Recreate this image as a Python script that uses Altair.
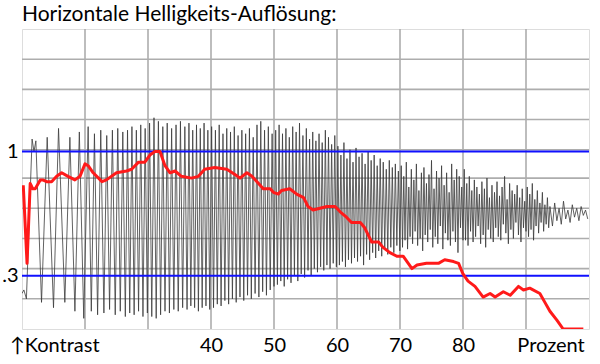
import altair as alt
import pandas as pd

title_text = "Horizontale Helligkeits-Auflösung:"

# axis labels
x_label_values = [15.1, 40, 50, 60, 70, 80, 93.9]
x_label_texts = ["↑Kontrast", "40", "50", "60", "70", "80", "Prozent"]
y_label_values = [0.3, 1.0]

# grid and reference lines
grid_x = [20, 30, 40, 50, 60, 70, 80, 90]
grid_y = [0.17, 0.34, 0.51, 0.68, 0.85, 1.01, 1.18, 1.35, 1.52]
ref_lines = [0.3, 1.0]

# red contrast curve (percent, contrast)
red_x = [10.2, 10.8, 11.3, 11.7, 12.1, 12.9, 13.3, 13.9, 14.7, 15.5, 16.3, 17.3, 18.4, 19.2,
         20.0, 20.5, 21.3, 22.7, 23.4, 25.0, 26.6, 27.4, 28.5, 29.5, 30.3, 31.1, 31.9, 32.7,
         33.5, 34.3, 35.3, 36.9, 38.0, 39.0, 40.6, 42.5, 43.8, 44.6, 45.7, 46.5, 47.3, 48.3,
         49.4, 49.9, 50.7, 51.2, 52.5, 53.6, 54.7, 55.4, 56.2, 57.3, 58.4, 59.7, 60.5, 61.5,
         62.3, 63.7, 64.4, 65.5, 66.6, 67.3, 68.4, 69.5, 70.5, 71.9, 72.7, 74.2, 75.3, 76.1,
         77.1, 78.5, 79.3, 80.0, 80.8, 81.9, 83.2, 84.3, 85.1, 86.4, 87.5, 88.8, 89.6, 90.6,
         92.2, 93.0, 93.8, 94.9, 95.9, 99.1]
red_y = [0.81, 0.37, 0.82, 0.79, 0.79, 0.84, 0.84, 0.83, 0.83, 0.86, 0.88, 0.86, 0.84, 0.86,
         0.93, 0.92, 0.88, 0.83, 0.84, 0.88, 0.89, 0.90, 0.94, 0.94, 0.98, 1.00, 1.00, 0.92,
         0.88, 0.89, 0.86, 0.85, 0.86, 0.90, 0.91, 0.90, 0.87, 0.85, 0.88, 0.86, 0.83, 0.79,
         0.79, 0.77, 0.76, 0.78, 0.79, 0.76, 0.74, 0.69, 0.67, 0.68, 0.69, 0.69, 0.66, 0.63,
         0.60, 0.60, 0.57, 0.49, 0.49, 0.46, 0.43, 0.41, 0.41, 0.34, 0.36, 0.37, 0.37, 0.37,
         0.39, 0.38, 0.37, 0.31, 0.27, 0.24, 0.18, 0.20, 0.18, 0.21, 0.19, 0.24, 0.22, 0.23,
         0.20, 0.15, 0.10, 0.05, 0.00, 0.00]

# gray brightness profile (peaks and troughs, segment by segment)
seg1_x = [10.0, 10.3, 10.7, 11.6, 11.9, 12.2, 13.1, 14.0, 15.0, 15.8, 16.8, 17.6, 18.4, 19.1, 19.8, 20.5]
seg1_y = [0.20, 0.22, 0.17, 1.07, 1.00, 1.06, 0.15, 1.08, 0.12, 1.13, 0.15, 1.08, 0.10, 1.11, 0.06, 1.14]

seg2_x = [21.0, 21.5, 22.0, 22.5, 23.0, 23.45, 23.9, 24.35, 24.8, 25.2, 25.6, 26.0, 26.4, 26.75,
          27.1, 27.45, 27.8, 28.15, 28.5, 28.85, 29.2, 29.55, 29.9]
seg2_y = [0.10, 1.10, 0.08, 1.12, 0.09, 1.09, 0.11, 1.12, 0.08, 1.13, 0.10, 1.11, 0.07, 1.12,
          0.09, 1.14, 0.08, 1.12, 0.10, 1.15, 0.07, 1.13, 0.09]

seg3_x = [30.25, 30.6, 30.95, 31.3, 31.65, 32.0, 32.35, 32.7, 33.05, 33.4, 33.75, 34.1, 34.45, 34.8,
          35.15, 35.5, 35.85, 36.2, 36.5, 36.8, 37.1, 37.4, 37.7, 38.0, 38.3, 38.6, 38.9, 39.2,
          39.5, 39.8]
seg3_y = [1.16, 0.07, 1.19, 0.06, 1.17, 0.08, 1.14, 0.10, 1.16, 0.09, 1.13, 0.11, 1.15, 0.10,
          1.17, 0.12, 1.14, 0.11, 1.16, 0.13, 1.12, 0.12, 1.15, 0.10, 1.13, 0.12, 1.16, 0.13,
          1.12, 0.11]

seg4_x = [40.1, 40.4, 40.7, 41.0, 41.3, 41.6, 41.9, 42.2, 42.5, 42.8, 43.1, 43.4, 43.7, 44.0,
          44.3, 44.6, 44.9, 45.2, 45.5, 45.8, 46.1, 46.4, 46.7, 47.0, 47.3, 47.6, 47.9, 48.2,
          48.5, 48.8, 49.1, 49.4, 49.7, 50.0]
seg4_y = [1.14, 0.12, 1.12, 0.14, 1.15, 0.13, 1.10, 0.16, 1.13, 0.14, 1.11, 0.17, 1.14, 0.15,
          1.09, 0.18, 1.12, 0.16, 1.10, 0.19, 1.13, 0.17, 1.08, 0.20, 1.15, 0.18, 1.17, 0.21,
          1.12, 0.19, 1.14, 0.22, 1.10, 0.24]

seg5_x = [50.27, 50.54, 50.81, 51.08, 51.35, 51.62, 51.89, 52.16, 52.43, 52.7, 52.97, 53.24,
          53.51, 53.78, 54.05, 54.32, 54.59, 54.86, 55.13, 55.4, 55.65, 55.9, 56.15, 56.4,
          56.65, 56.9, 57.15, 57.4, 57.65, 57.9, 58.15, 58.4, 58.65, 58.9, 59.15, 59.4, 59.65, 59.9]
seg5_y = [1.12, 0.25, 1.15, 0.27, 1.10, 0.24, 1.13, 0.28, 1.08, 0.26, 1.14, 0.30,
          1.11, 0.27, 1.16, 0.31, 1.09, 0.29, 1.13, 0.33, 1.07, 0.30, 1.11, 0.34,
          1.06, 0.32, 1.10, 0.35, 1.05, 0.33, 1.12, 0.36, 1.08, 0.34, 1.04, 0.37, 1.09, 0.35]

seg6_x = [60.14, 60.38, 60.62, 60.86, 61.1, 61.34, 61.58, 61.82, 62.06, 62.3, 62.54, 62.78,
          63.02, 63.26, 63.5, 63.74, 63.98, 64.22, 64.46, 64.7, 64.94, 65.18, 65.42, 65.66,
          65.9, 66.14, 66.38, 66.62, 66.86, 67.1, 67.34, 67.58, 67.82, 68.06, 68.3, 68.54,
          68.78, 69.02, 69.26, 69.5, 69.74, 69.98]
seg6_y = [1.03, 0.36, 0.98, 0.38, 1.05, 0.35, 0.96, 0.39, 1.01, 0.37, 0.94, 0.40,
          1.02, 0.38, 0.97, 0.41, 0.99, 0.36, 0.93, 0.42, 1.00, 0.39, 0.95, 0.43,
          0.98, 0.40, 0.92, 0.44, 0.96, 0.41, 0.94, 0.45, 0.90, 0.42, 0.95, 0.46,
          0.91, 0.43, 0.93, 0.47, 0.89, 0.44]

seg7_x = [70.2, 70.4, 70.6, 70.8, 71.0, 71.2, 71.4, 71.6, 71.8, 72.0, 72.2, 72.4, 72.6, 72.8,
          73.0, 73.2, 73.4, 73.6, 73.8, 74.0, 74.2, 74.4, 74.6, 74.8, 75.0, 75.2, 75.4, 75.6,
          75.8, 76.0, 76.2, 76.4, 76.6, 76.8, 77.0, 77.2, 77.4, 77.6, 77.8, 78.0, 78.2, 78.4,
          78.6, 78.8, 79.0, 79.2, 79.4, 79.6, 79.8, 80.0]
seg7_y = [0.92, 0.46, 0.86, 0.50, 0.94, 0.45, 0.80, 0.52, 0.90, 0.48, 0.84, 0.55, 0.93, 0.47,
          0.78, 0.51, 0.88, 0.44, 0.91, 0.53, 0.82, 0.49, 0.87, 0.56, 0.95, 0.46, 0.79, 0.52,
          0.89, 0.48, 0.85, 0.58, 0.92, 0.45, 0.81, 0.54, 0.88, 0.50, 0.77, 0.47, 0.93, 0.55,
          0.84, 0.49, 0.90, 0.43, 0.86, 0.57, 0.80, 0.50]

seg8_x = [80.2, 80.4, 80.6, 80.8, 81.0, 81.2, 81.4, 81.6, 81.8, 82.0, 82.2, 82.4, 82.6, 82.8,
          83.0, 83.2, 83.4, 83.6, 83.8, 84.0, 84.2, 84.4, 84.6, 84.8, 85.0, 85.2, 85.4, 85.6,
          85.8, 86.0, 86.2, 86.4, 86.6, 86.8, 87.0, 87.2, 87.4, 87.6, 87.8, 88.0, 88.2, 88.4,
          88.6, 88.8, 89.0, 89.2, 89.4, 89.6, 89.8, 90.0]
seg8_y = [0.90, 0.50, 0.82, 0.47, 0.86, 0.55, 0.78, 0.49, 0.84, 0.52, 0.80, 0.58, 0.76, 0.48,
          0.83, 0.53, 0.79, 0.46, 0.85, 0.56, 0.74, 0.51, 0.81, 0.49, 0.77, 0.57, 0.83, 0.52,
          0.75, 0.50, 0.80, 0.59, 0.86, 0.54, 0.73, 0.48, 0.82, 0.56, 0.78, 0.51, 0.76, 0.60,
          0.81, 0.53, 0.74, 0.49, 0.79, 0.57, 0.72, 0.55]

seg9_x = [90.2, 90.4, 90.6, 90.8, 91.0, 91.2, 91.4, 91.6, 91.8, 92.0, 92.2, 92.4, 92.6, 92.8,
          93.0, 93.2, 93.4, 93.6, 93.8, 94.2, 94.55, 94.9, 95.25, 95.6, 95.95, 96.3, 96.65,
          97.0, 97.35, 97.7, 98.05, 98.4, 98.75, 99.1, 99.45, 99.8]
seg9_y = [0.80, 0.52, 0.76, 0.56, 0.82, 0.50, 0.73, 0.58, 0.78, 0.54, 0.71, 0.60, 0.77, 0.55,
          0.70, 0.59, 0.74, 0.57, 0.69, 0.58, 0.71, 0.61, 0.68, 0.59, 0.72, 0.62, 0.67,
          0.60, 0.70, 0.63, 0.68, 0.61, 0.69, 0.64, 0.67, 0.62]

wave_x = seg1_x + seg2_x + seg3_x + seg4_x + seg5_x + seg6_x + seg7_x + seg8_x + seg9_x
wave_y = seg1_y + seg2_y + seg3_y + seg4_y + seg5_y + seg6_y + seg7_y + seg8_y + seg9_y

FONT = "Lato"

wave_df = pd.DataFrame([{"x": a, "y": b, "i": k} for k, (a, b) in enumerate(zip(wave_x, wave_y))])
red_df = pd.DataFrame([{"x": a, "y": b, "i": k} for k, (a, b) in enumerate(zip(red_x, red_y))])
gx_df = pd.DataFrame({"x": grid_x})
gy_df = pd.DataFrame({"y": grid_y})
ref_df = pd.DataFrame({"y": ref_lines})

x_expr = " : ".join(
    [f"datum.value == {v} ? '{t}'" for v, t in zip(x_label_values, x_label_texts)]
) + " : ''"
y_expr = "datum.value == 1 ? '1' : '.3'"

xs = alt.Scale(domain=[10, 100], nice=False, zero=False)
ys = alt.Scale(domain=[0, 1.69], nice=False, zero=False)

x_axis = alt.Axis(values=x_label_values, labelExpr=x_expr, title=None, grid=False,
                  ticks=False, domain=False, labelPadding=6, labelFontSize=20,
                  labelFont=FONT, labelColor="black", labelFlush=False, labelOverlap=False)
y_axis = alt.Axis(values=y_label_values, labelExpr=y_expr, title=None, grid=False,
                  ticks=False, domain=False, labelPadding=4, labelFontSize=20,
                  labelFont=FONT, labelColor="black", labelFlush=False, labelOverlap=False)

X = alt.X("x:Q", scale=xs, axis=x_axis)
Y = alt.Y("y:Q", scale=ys, axis=y_axis)

grid_v = alt.Chart(gx_df).mark_rule(color="#adadad", strokeWidth=1.6).encode(x=X)
grid_h = alt.Chart(gy_df).mark_rule(color="#adadad", strokeWidth=1.6).encode(y=Y)
wave = alt.Chart(wave_df).mark_line(color="#3a3a3a", strokeWidth=0.8, clip=True).encode(
    x=X, y=Y, order="i:Q")
refs = alt.Chart(ref_df).mark_rule(color="#1010ff", strokeWidth=2).encode(y=Y)
red = alt.Chart(red_df).mark_line(color="#ff1a1a", strokeWidth=3, clip=True,
                                  strokeJoin="round").encode(x=X, y=Y, order="i:Q")

chart = alt.layer(grid_v, grid_h, wave, refs, red).properties(
    width=567,
    height=300,
    autosize=alt.AutoSizeParams(type="none"),
    padding={"left": 22, "top": 29, "right": 11, "bottom": 35},
    title=alt.Title(title_text, anchor="start", frame="group", fontSize=21, font=FONT,
                    fontWeight="normal", color="black", baseline="alphabetic", offset=5,
                    dy=19),
).configure_view(stroke="black", strokeWidth=2.6).configure(background="white")

chart.save("out.html", embed_options={"renderer": "svg", "actions": False})
